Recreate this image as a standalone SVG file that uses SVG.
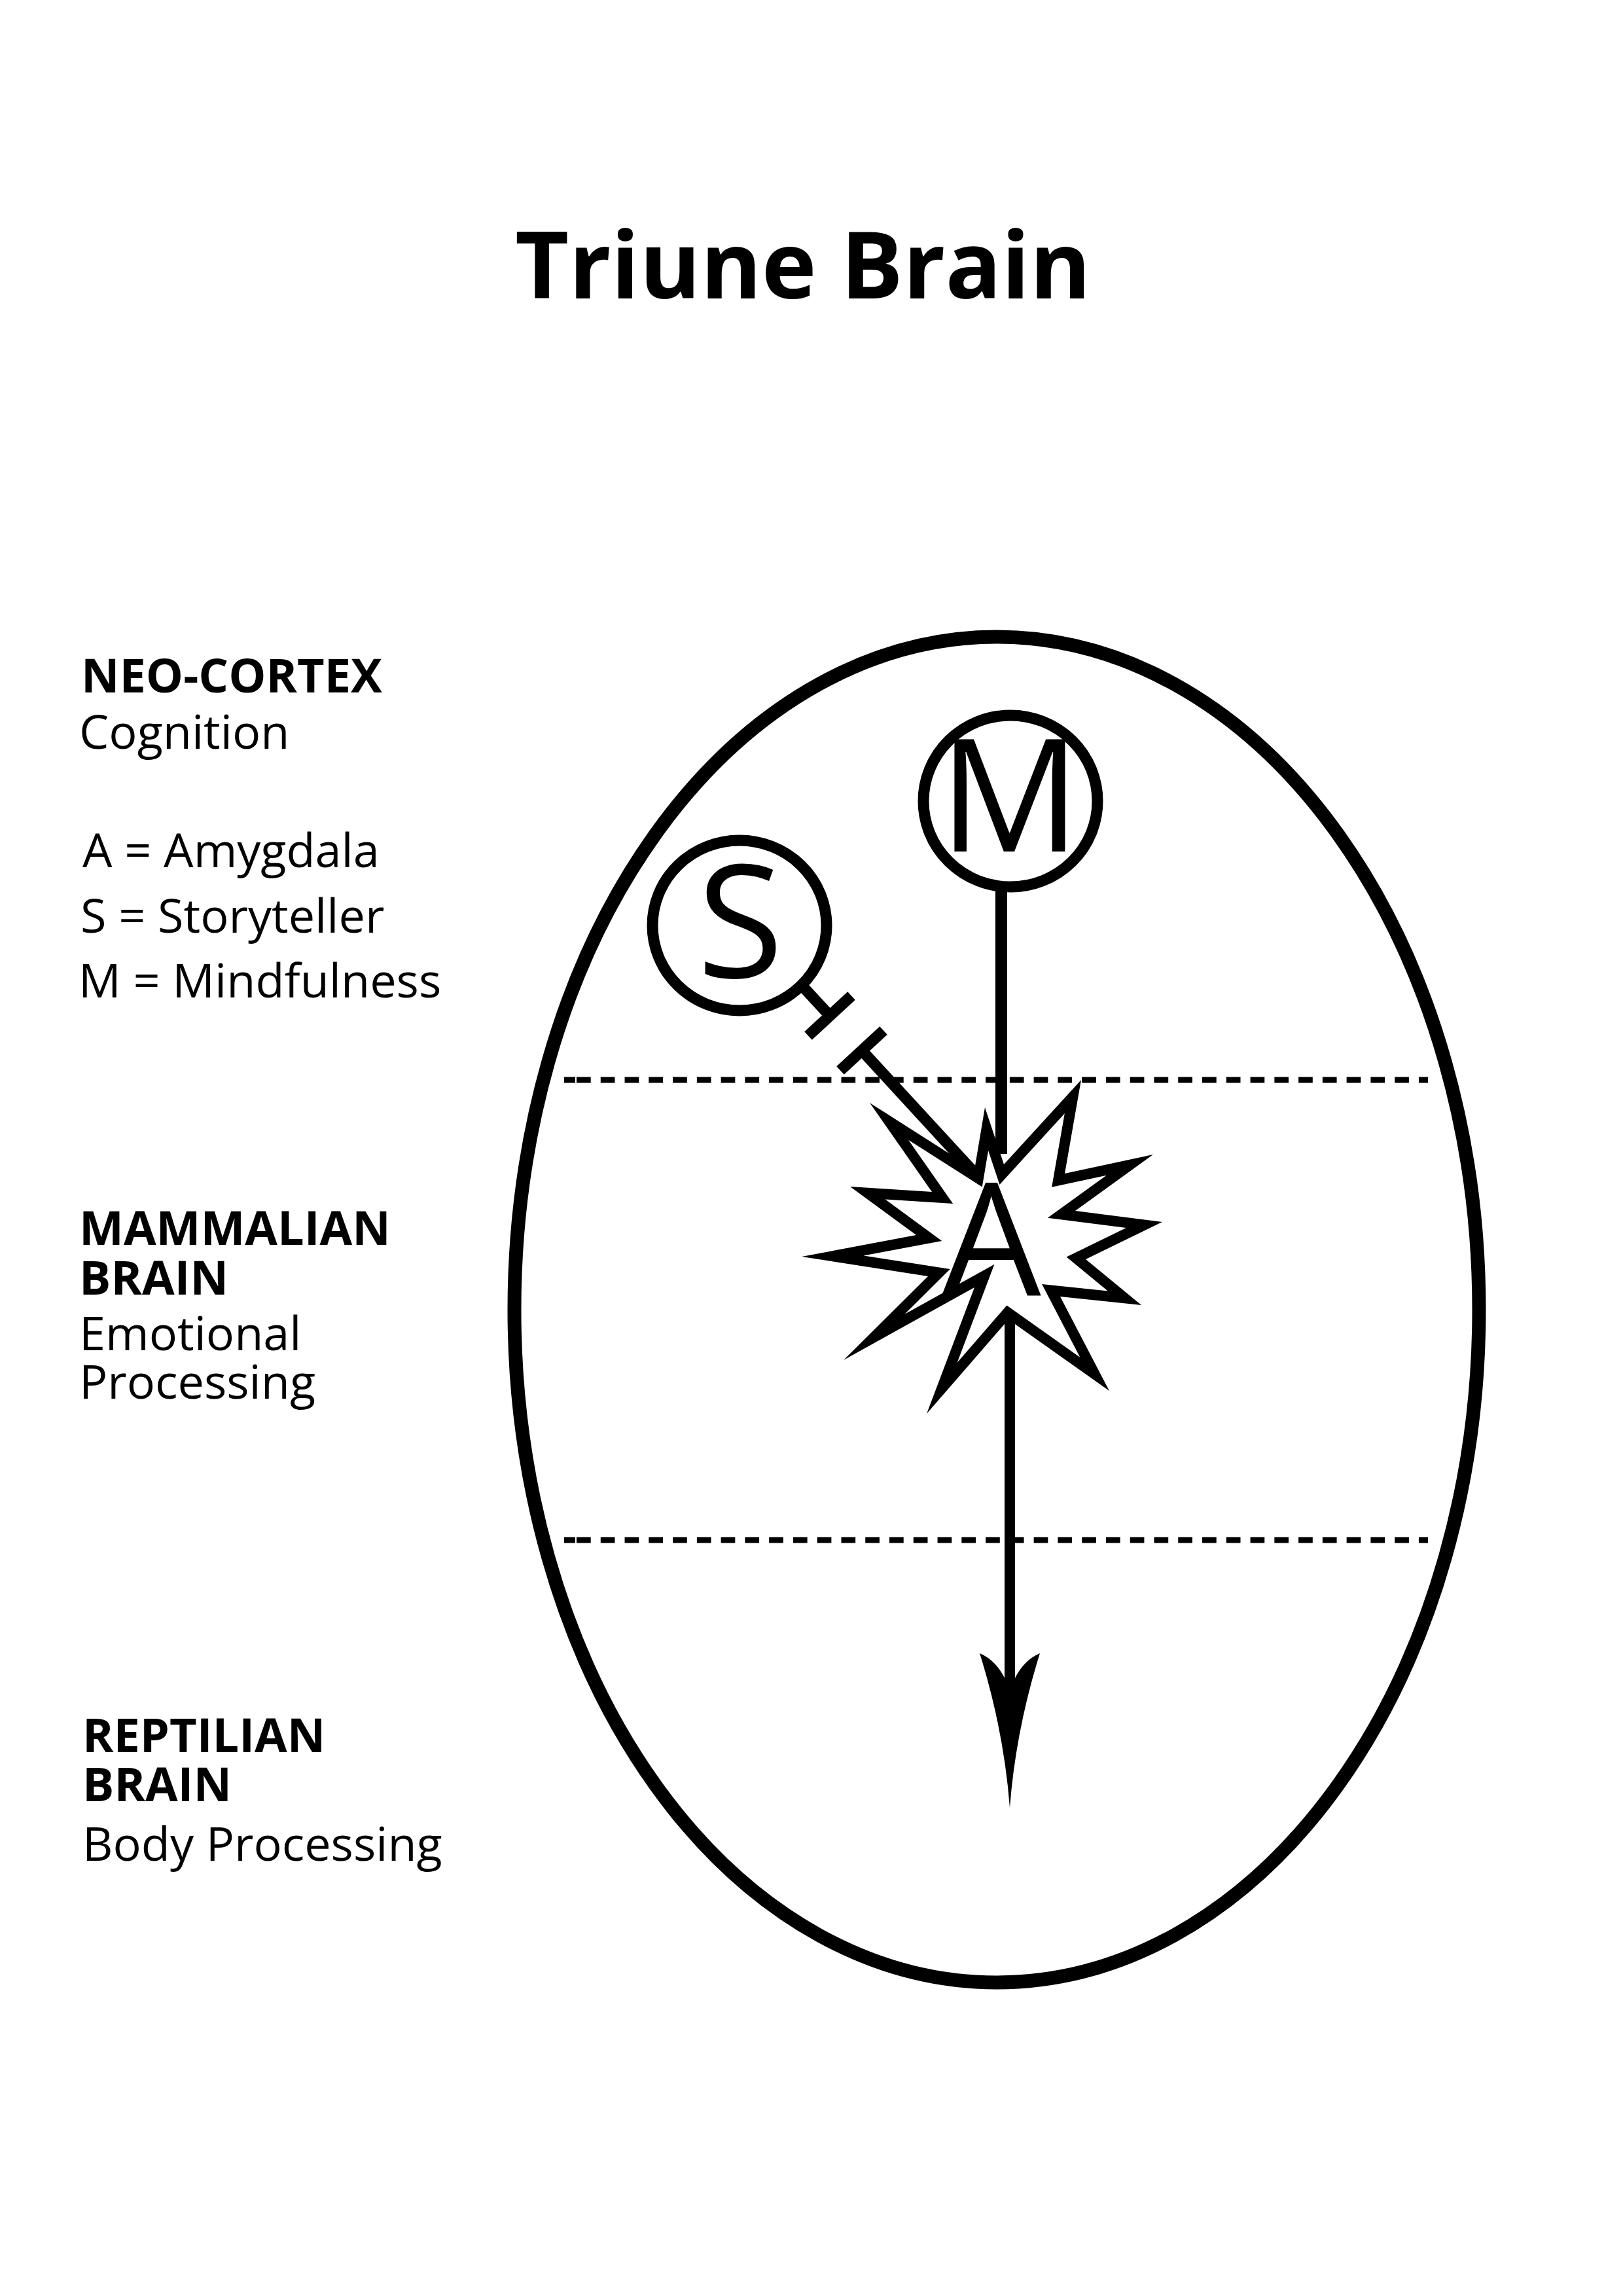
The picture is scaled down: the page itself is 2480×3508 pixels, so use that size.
<svg xmlns="http://www.w3.org/2000/svg" width="2480" height="3508" viewBox="0 0 2480 3508">
<defs>
<style>
.t{font-family:"Open Sans","Noto Sans","Liberation Sans",sans-serif;fill:#000}
.title{font-weight:700;font-size:142px}
.hb{font-weight:700;font-size:72px}
.hr{font-weight:400;font-size:72px}
.letter{font-weight:400;font-size:240px}
.ln{stroke:#000;fill:none;stroke-linecap:butt}
.dash{stroke:#000;stroke-width:9;fill:none}
.circ{fill:#fff;stroke:#000;stroke-width:17}
</style>
<polygon id="starShape" points="1505,1692 1534,1779 1652,1650 1627,1793 1762,1764 1643,1850 1776,1867 1659,1924 1744,1994 1620,1981 1695,2125 1541,2016 1416,2160 1489,1967 1289,2078 1418,1950 1225,1920 1400,1887 1299,1813 1424,1821 1329,1685 1489,1787"/>
<clipPath id="starClip"><use href="#starShape"/></clipPath>
</defs>
<rect width="2480" height="3508" fill="#fff"/>

<text class="t title" x="1227" y="456" text-anchor="middle">Triune Brain</text>

<g id="legend-neocortex">
<text class="t hb" x="124" y="1058">NEO-CORTEX</text>
<text class="t hr" x="121" y="1144">Cognition</text>
<text class="t hr" x="126" y="1325">A = Amygdala</text>
<text class="t hr" x="123" y="1425">S = Storyteller</text>
<text class="t hr" x="120" y="1524">M = Mindfulness</text>
</g>
<g id="legend-mammalian">
<text class="t hb" x="121" y="1902">MAMMALIAN</text>
<text class="t hb" x="121" y="1978">BRAIN</text>
<text class="t hr" x="121" y="2063">Emotional</text>
<text class="t hr" x="121" y="2137">Processing</text>
</g>
<g id="legend-reptilian">
<text class="t hb" x="126" y="2677">REPTILIAN</text>
<text class="t hb" x="126" y="2752">BRAIN</text>
<text class="t hr" x="126" y="2843">Body Processing</text>
</g>

<g id="brain">
<ellipse cx="1523" cy="2001" rx="737" ry="1028" fill="none" stroke="#000" stroke-width="21"/>
</g>

<g id="layer-dividers">
<line class="dash" x1="862" y1="1650" x2="879" y2="1650"/>
<line class="dash" x1="881" y1="1650" x2="2182" y2="1650" stroke-dasharray="21.7 15.07"/>
<line class="dash" x1="862" y1="2353" x2="879" y2="2353"/>
<line class="dash" x1="881" y1="2353" x2="2182" y2="2353" stroke-dasharray="21.7 15.07"/>
</g>

<g id="node-A">
<use href="#starShape" fill="#fff"/>
<use href="#starShape" fill="none" stroke="#000" stroke-width="32" stroke-linejoin="miter" stroke-miterlimit="80" clip-path="url(#starClip)"/>
<text class="t letter" x="1515" y="1979" text-anchor="middle">A</text>
</g>

<g id="node-M">
<ellipse class="circ" cx="1544" cy="1224" rx="133" ry="131"/>
<text class="t letter" x="1543" y="1301" text-anchor="middle">M</text>
</g>

<g id="node-S">
<ellipse class="circ" cx="1130" cy="1414" rx="133" ry="130"/>
<text class="t letter" x="1131" y="1494" text-anchor="middle">S</text>
</g>

<g id="connectors">
<line class="ln" x1="1530" y1="1355" x2="1530" y2="1763" stroke-width="18"/>
<line class="ln" x1="1220" y1="1500" x2="1268" y2="1552" stroke-width="17"/>
<line class="ln" x1="1235" y1="1582.5" x2="1301" y2="1521.5" stroke-width="17"/>
<line class="ln" x1="1284" y1="1635.5" x2="1350" y2="1574.5" stroke-width="17"/>
<line class="ln" x1="1317" y1="1605" x2="1490" y2="1793" stroke-width="17"/>
<line class="ln" x1="1543" y1="2005" x2="1543" y2="2600" stroke-width="16"/>
<path d="M1497,2526 Q1523,2537 1537,2568 L1549,2568 Q1563,2537 1589,2526 Q1552,2644 1543,2762 Q1534,2644 1497,2526 Z" fill="#000"/>
</g>
</svg>
